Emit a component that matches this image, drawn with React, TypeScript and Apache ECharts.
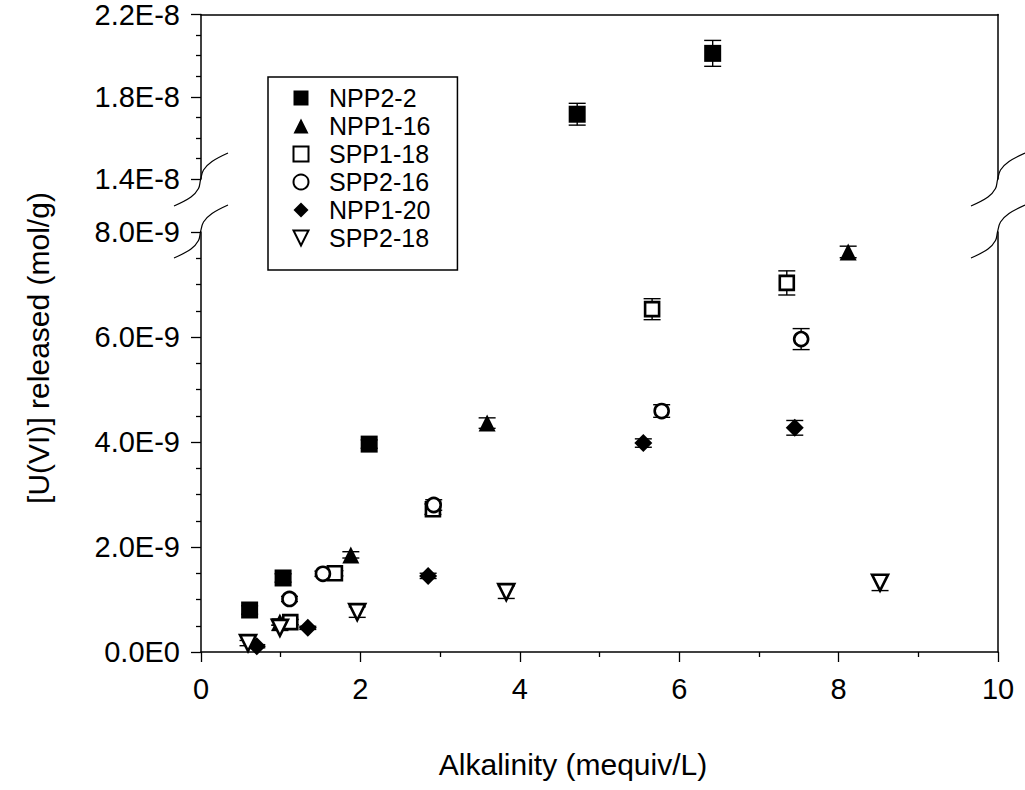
import React, { useEffect, useRef } from "react";
import * as echarts from "echarts";

// Values in units of 1E-9 mol/g; alkalinity in mequiv/L
const seriesNames = ["NPP2-2", "NPP1-16", "SPP1-18", "SPP2-16", "NPP1-20", "SPP2-18"];
const npp2_2X = [0.61, 1.03, 2.11, 4.72, 6.42];
const npp2_2Y = [0.8, 1.41, 3.96, 17.15, 20.11];
const npp2_2E = [0.08, 0.08, 0.08, 0.53, 0.63];
const npp1_16X = [0.99, 1.88, 3.59, 8.12];
const npp1_16Y = [0.57, 1.85, 4.36, 7.62];
const npp1_16E = [0.06, 0.06, 0.1, 0.11];
const spp1_18X = [1.12, 1.68, 2.91, 5.66, 7.35];
const spp1_18Y = [0.57, 1.5, 2.72, 6.53, 7.03];
const spp1_18E = [0.05, 0.05, 0.1, 0.2, 0.23];
const spp2_16X = [1.11, 1.53, 2.92, 5.78, 7.53];
const spp2_16Y = [1.01, 1.49, 2.8, 4.59, 5.96];
const spp2_16E = [0.05, 0.05, 0.1, 0.12, 0.2];
const npp1_20X = [0.7, 1.34, 2.85, 5.55, 7.45];
const npp1_20Y = [0.11, 0.46, 1.45, 3.98, 4.27];
const npp1_20E = [0.03, 0.03, 0.05, 0.08, 0.14];
const spp2_18X = [0.59, 0.99, 1.96, 3.83, 8.52];
const spp2_18Y = [0.17, 0.46, 0.76, 1.14, 1.32];
const spp2_18E = [0.05, 0.05, 0.1, 0.12, 0.15];

const xTicks = [0, 2, 4, 6, 8, 10];
const lowerYTicks = [0, 2, 4, 6, 8];
const upperYTicks = [14, 18, 22];
const upperYMinor = [15, 16, 17, 19, 20, 21];

const xTitle = "Alkalinity (mequiv/L)";
const yTitle = "[U(VI)] released (mol/g)";

const FONT = "'Liberation Sans', Arial, sans-serif";

const W = 1025;
const H = 790;
const LEFT = 201;
const RIGHT_X = 998;
const UP_TOP = 14;
const UP_H = 165;
const LO_TOP = 232;
const LO_H = 420;

const DOWN_TRI = "path://M0,0L20,0L10,20Z";

const styles: Record<string, any> = {
  "NPP2-2": { symbol: "rect", size: 17, fill: "#000", bw: 0, rot: 0 },
  "NPP1-16": { symbol: "triangle", size: 17, fill: "#000", bw: 0, rot: 0 },
  "SPP1-18": { symbol: "rect", size: 14, fill: "#fff", bw: 2.6, rot: 0 },
  "SPP2-16": { symbol: "circle", size: 14, fill: "#fff", bw: 2.6, rot: 0 },
  "NPP1-20": { symbol: "diamond", size: 18, fill: "#000", bw: 0, rot: 0 },
  "SPP2-18": { symbol: DOWN_TRI, size: 16, fill: "#fff", bw: 2.6, rot: 0 },
};

const allData: Record<string, number[][]> = {
  "NPP2-2": [npp2_2X, npp2_2Y, npp2_2E],
  "NPP1-16": [npp1_16X, npp1_16Y, npp1_16E],
  "SPP1-18": [spp1_18X, spp1_18Y, spp1_18E],
  "SPP2-16": [spp2_16X, spp2_16Y, spp2_16E],
  "NPP1-20": [npp1_20X, npp1_20Y, npp1_20E],
  "SPP2-18": [spp2_18X, spp2_18Y, spp2_18E],
};

const breakShape = [
  [-27, 26],
  [-10, 17],
  [-2.5, 8.5],
  [-0.5, 0],
  [2.5, -10],
  [11, -18.5],
  [27, -27],
];

function errRender(params: any, api: any) {
  const x = api.value(0);
  const lo = api.coord([x, api.value(1)]);
  const hi = api.coord([x, api.value(2)]);
  const hw = 8.5;
  const st = { stroke: "#000", lineWidth: 1.4 };
  return {
    type: "group",
    children: [
      { type: "line", shape: { x1: lo[0], y1: lo[1], x2: hi[0], y2: hi[1] }, style: st },
      { type: "line", shape: { x1: lo[0] - hw, y1: lo[1], x2: lo[0] + hw, y2: lo[1] }, style: st },
      { type: "line", shape: { x1: hi[0] - hw, y1: hi[1], x2: hi[0] + hw, y2: hi[1] }, style: st },
    ],
  };
}

export default function App() {
  const ref = useRef<HTMLDivElement>(null);
  useEffect(() => {
    if (!ref.current) return;
    const chart = echarts.init(ref.current, undefined, { renderer: "svg" });

    const series: any[] = [];
    seriesNames.forEach((name) => {
      const [xs, ys, es] = allData[name];
      const st = styles[name];
      const upper: number[][] = [];
      const lower: number[][] = [];
      xs.forEach((x, i) => {
        const p = [x, ys[i], ys[i] - es[i], ys[i] + es[i]];
        if (ys[i] >= 14) upper.push(p);
        else lower.push(p);
      });
      const groups: [number[][], number][] = [
        [lower, 1],
        [upper, 0],
      ];
      groups.forEach(([pts, gi]) => {
        if (!pts.length) return;
        series.push({
          type: "custom",
          name: name + " err",
          xAxisIndex: gi,
          yAxisIndex: gi === 0 ? 0 : 3,
          renderItem: errRender,
          encode: { x: 0, y: [1, 2] },
          data: pts.map((p) => [p[0], p[2], p[3]]),
          z: 2,
          silent: true,
        });
        series.push({
          type: "scatter",
          name,
          xAxisIndex: gi,
          yAxisIndex: gi === 0 ? 0 : 3,
          symbol: st.symbol,
          symbolSize: st.size,
          symbolRotate: st.rot,
          data: pts.map((p) => [p[0], p[1]]),
          itemStyle: {
            color: st.fill,
            borderColor: "#000",
            borderWidth: st.bw,
            opacity: 1,
          },
          z: 3,
        });
      });
    });

    const lineStyle = { color: "#000", width: 1.5 };
    const labelStyle = { color: "#000", fontSize: 29, fontFamily: FONT };

    const mkBreak = (cx: number, cy: number) => ({
      type: "polyline",
      shape: { points: breakShape.map(([dx, dy]) => [cx + dx, cy + dy]), smooth: 0.35 },
      style: { stroke: "#000", lineWidth: 1.2, fill: null },
      z: 100,
    });

    const option: any = {
      animation: false,
      backgroundColor: "#fff",
      grid: [
        { left: LEFT, right: W - RIGHT_X, top: UP_TOP, height: UP_H },
        { left: LEFT, right: W - RIGHT_X, top: LO_TOP, height: LO_H },
      ],
      xAxis: [
        {
          gridIndex: 0,
          type: "value",
          position: "top",
          min: 0,
          max: 10,
          axisLine: { show: true, lineStyle },
          axisTick: { show: false },
          axisLabel: { show: false },
          splitLine: { show: false },
        },
        {
          gridIndex: 1,
          type: "value",
          position: "bottom",
          min: 0,
          max: 10,
          interval: 2,
          axisLine: { show: true, onZero: false, lineStyle },
          axisTick: { show: true, length: 10, lineStyle: { color: "#000", width: 1.3 }, customValues: xTicks },
          minorTick: { show: true, splitNumber: 2, length: 5, lineStyle: { color: "#000", width: 1.3 } },
          axisLabel: { ...labelStyle, margin: 22, customValues: xTicks, formatter: (v: number) => String(v) },
          splitLine: { show: false },
          minorSplitLine: { show: false },
        },
      ],
      yAxis: [
        {
          gridIndex: 0,
          type: "value",
          position: "left",
          min: 14,
          max: 22,
          axisLine: { show: true, lineStyle },
          axisTick: { show: true, length: 10, lineStyle: { color: "#000", width: 1.3 }, customValues: upperYTicks },
          axisLabel: {
            ...labelStyle,
            margin: 21,
            customValues: upperYTicks,
            formatter: (v: number) => (v / 10).toFixed(1) + "E-8",
          },
          splitLine: { show: false },
        },
        {
          gridIndex: 0,
          type: "value",
          position: "left",
          min: 14,
          max: 22,
          axisLine: { show: false },
          axisTick: { show: true, length: 5, lineStyle: { color: "#000", width: 1.3 }, customValues: upperYMinor },
          axisLabel: { show: false },
          splitLine: { show: false },
        },
        {
          gridIndex: 0,
          type: "value",
          position: "right",
          min: 14,
          max: 22,
          axisLine: { show: true, lineStyle },
          axisTick: { show: false },
          axisLabel: { show: false },
          splitLine: { show: false },
        },
        {
          gridIndex: 1,
          type: "value",
          position: "left",
          min: 0,
          max: 8,
          interval: 2,
          axisLine: { show: true, onZero: false, lineStyle },
          axisTick: { show: true, length: 10, lineStyle: { color: "#000", width: 1.3 } },
          minorTick: { show: true, splitNumber: 4, length: 5, lineStyle: { color: "#000", width: 1.3 } },
          axisLabel: {
            ...labelStyle,
            margin: 21,
            customValues: lowerYTicks,
            formatter: (v: number) => (v === 0 ? "0.0E0" : v.toFixed(1) + "E-9"),
          },
          splitLine: { show: false },
          minorSplitLine: { show: false },
        },
        {
          gridIndex: 1,
          type: "value",
          position: "right",
          min: 0,
          max: 8,
          axisLine: { show: true, onZero: false, lineStyle },
          axisTick: { show: false },
          axisLabel: { show: false },
          splitLine: { show: false },
        },
      ],
      legend: {
        data: seriesNames.map((n) => ({ name: n, icon: styles[n].symbol })),
        orient: "vertical",
        left: 268,
        top: 77,
        selectedMode: false,
        itemWidth: 15,
        itemHeight: 15,
        itemGap: 3,
        padding: [8.5, 27, 19.5, 24.5],
        borderColor: "#000",
        borderWidth: 1.5,
        borderRadius: 0,
        backgroundColor: "#fff",
        textStyle: { color: "#000", fontSize: 25, fontFamily: FONT, padding: [0, 0, 0, 15.5] },
        z: 20,
      },
      graphic: [
        mkBreak(LEFT, UP_TOP + UP_H + 1),
        mkBreak(LEFT, LO_TOP),
        mkBreak(RIGHT_X, UP_TOP + UP_H + 1),
        mkBreak(RIGHT_X, LO_TOP),
        {
          type: "text",
          x: 573,
          y: 764,
          style: {
            text: xTitle,
            fill: "#000",
            font: `30px ${FONT}`,
            textAlign: "center",
            textVerticalAlign: "middle",
          },
        },
        {
          type: "text",
          x: 38,
          y: 348,
          rotation: Math.PI / 2,
          style: {
            text: yTitle,
            fill: "#000",
            font: `30px ${FONT}`,
            textAlign: "center",
            textVerticalAlign: "middle",
          },
        },
      ],
      series,
    };
    chart.setOption(option);
    return () => chart.dispose();
  }, []);
  return <div ref={ref} style={{ position: "absolute", left: 0, top: 0, width: W, height: H }} />;
}
